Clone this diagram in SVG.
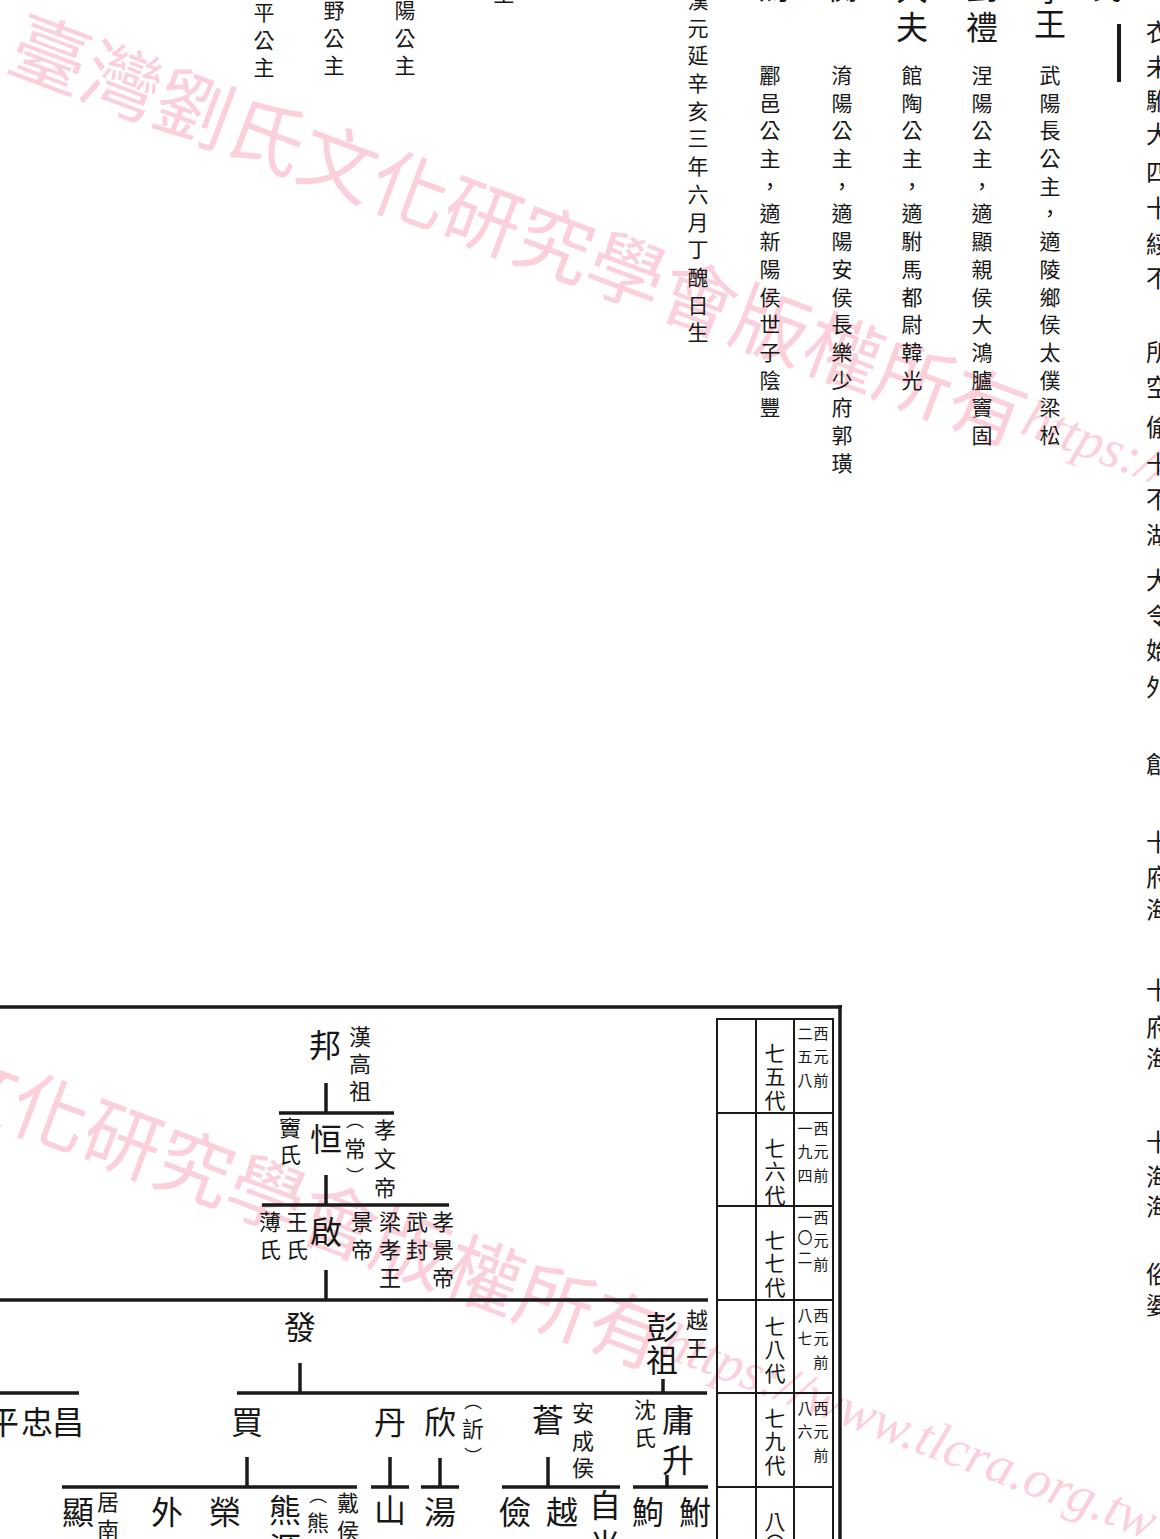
<svg xmlns="http://www.w3.org/2000/svg" width="1160" height="1539" viewBox="0 0 1160 1539">
<style>
text{font-family:"Noto Sans CJK TC","Noto Sans CJK SC",sans-serif;fill:#171717}
.v{writing-mode:vertical-rl}
.c{text-anchor:middle;dominant-baseline:central}
.t21{font-size:21px;letter-spacing:6.7px}
.L{font-size:32px}
.S{font-size:22px}
.P{font-size:18px}
.g{font-size:21px;letter-spacing:2.5px}
.d{font-size:15px;letter-spacing:8.5px}
.dn{font-size:15px;letter-spacing:5px}
.R{font-size:24px}
.wm text{fill:#fcd0da;font-size:77px;dominant-baseline:central}
.ln line{stroke:#1a1a1a;stroke-width:3.5}
.tb line{stroke:#1a1a1a;stroke-width:2}
</style>
<rect width="1160" height="1539" fill="#fff"/>
<g id="watermark" class="wm">
<text transform="translate(52,50) rotate(20.6)" x="-38.5" y="0">臺灣劉氏文化研究學會版權所有<tspan font-family="Liberation Serif" font-style="italic" font-size="54">https://www.tlcra.org.tw</tspan></text>
<text transform="translate(-308,973) rotate(20.6)" x="-38.5" y="0">臺灣劉氏文化研究學會版權所有<tspan font-family="Liberation Serif" font-style="italic" font-size="54">https://www.tlcra.org.tw</tspan></text>
</g>
<g id="top-page">
<rect x="1117" y="24" width="4" height="58" fill="#1a1a1a"/>
<g id="top-partials" class="L">
<text class="c" x="1050" y="-13">孝</text>
<text class="c" x="982" y="-15">劉</text>
<text class="c" x="912" y="-14">大</text>
<text class="c" x="843" y="-15">衡</text>
<text class="c" x="774" y="-15">焉</text>
<text class="c" x="1106" y="-15">氏</text>
</g>
<g id="top-col-1"><text class="c L" x="1050" y="22">王</text><text class="v t21" x="1050" y="64.5">武陽長公主，適陵鄉侯太僕梁松</text></g>
<g id="top-col-2"><text class="c L" x="982" y="25">禮</text><text class="v t21" x="982" y="64.5">涅陽公主，適顯親侯大鴻臚竇固</text></g>
<g id="top-col-3"><text class="c L" x="912" y="25">夫</text><text class="v t21" x="912" y="64.5">館陶公主，適駙馬都尉韓光</text></g>
<g id="top-col-4"><text class="v t21" x="842" y="64.5">淯陽公主，適陽安侯長樂少府郭璜</text></g>
<g id="top-col-5"><text class="v t21" x="770" y="64.5">酈邑公主，適新陽侯世子陰豐</text></g>
<g id="top-col-6"><text class="v t21" x="698" y="-10.5">漢元延辛亥三年六月丁醜日生</text></g>
<g id="top-left">
<text class="v t21" x="264" y="1.5">平公主</text>
<text class="v t21" x="334" y="-0.5">野公主</text>
<text class="v t21" x="405" y="-0.5">陽公主</text>
<text class="c t21" x="507" y="-8">主</text>
</g>
<g id="right-edge" class="R">
<text class="c" x="1158" y="30">衣</text><text class="c" x="1158" y="65">未</text><text class="c" x="1158" y="99">駙</text><text class="c" x="1158" y="132">大</text><text class="c" x="1158" y="170">四</text><text class="c" x="1158" y="206">十</text><text class="c" x="1158" y="242">綏</text><text class="c" x="1158" y="276">不</text>
<text class="c" x="1158" y="350">所</text><text class="c" x="1158" y="385">空</text><text class="c" x="1158" y="425">偷</text><text class="c" x="1158" y="462">十</text><text class="c" x="1158" y="497">不</text><text class="c" x="1158" y="533">湖</text><text class="c" x="1158" y="578">大</text><text class="c" x="1158" y="614">令</text><text class="c" x="1158" y="648">始</text><text class="c" x="1158" y="685">外</text>
<text class="c" x="1158" y="762">創</text><text class="c" x="1158" y="840">十</text><text class="c" x="1158" y="875">府</text><text class="c" x="1158" y="908">海</text><text class="c" x="1158" y="988">十</text><text class="c" x="1158" y="1025">府</text><text class="c" x="1158" y="1057">海</text>
<text class="c" x="1158" y="1140">十</text><text class="c" x="1158" y="1175">海</text><text class="c" x="1158" y="1205">海</text><text class="c" x="1158" y="1272">俗</text><text class="c" x="1158" y="1303">婆</text>
</g>
</g>
<g id="frame" class="ln">
<line x1="0" y1="1007" x2="842" y2="1007"/>
<line x1="840" y1="1005" x2="840" y2="1539"/>
</g>
<g id="table" class="tb">
<line x1="717" y1="1019" x2="717" y2="1539"/>
<line x1="756" y1="1019" x2="756" y2="1539"/>
<line x1="794" y1="1019" x2="794" y2="1539"/>
<line x1="833" y1="1019" x2="833" y2="1539"/>
<line x1="716" y1="1019" x2="834" y2="1019"/>
<line x1="716" y1="1113" x2="834" y2="1113"/>
<line x1="716" y1="1206" x2="834" y2="1206"/>
<line x1="716" y1="1300" x2="834" y2="1300"/>
<line x1="716" y1="1393" x2="834" y2="1393"/>
<line x1="716" y1="1487" x2="834" y2="1487"/>
</g>
<g id="table-text">
<text class="v g" x="775" y="1042.5">七五代</text>
<text class="v g" x="775" y="1137.5">七六代</text>
<text class="v g" x="775" y="1229.5">七七代</text>
<text class="v g" x="775" y="1315.5">七八代</text>
<text class="v g" x="775" y="1407.5">七九代</text>
<text class="v g" x="775" y="1510.5">八〇</text>
<text class="v d" x="821" y="1025.5">西元前</text>
<text class="v d" x="821" y="1120.5">西元前</text>
<text class="v d" x="821" y="1209.5">西元前</text>
<text class="v d" x="821" y="1307.5">西元前</text>
<text class="v d" x="821" y="1400.5">西元前</text>
<text class="v d" x="805" y="1025.5">二五八</text>
<text class="v d" x="805" y="1120.5">一九四</text>
<text class="v dn" x="805" y="1209.5">一〇二</text>
<text class="v d" x="805" y="1307.5">八七</text>
<text class="v d" x="805" y="1400.5">八六</text>
</g>
<g id="connectors" class="ln">
<line x1="326" y1="1083" x2="326" y2="1113"/>
<line x1="279" y1="1113" x2="394" y2="1113"/>
<line x1="326" y1="1175" x2="326" y2="1205"/>
<line x1="262" y1="1205" x2="449" y2="1205"/>
<line x1="326" y1="1270" x2="326" y2="1300"/>
<line x1="0" y1="1300" x2="708" y2="1300"/>
<line x1="300" y1="1363" x2="300" y2="1393"/>
<line x1="237" y1="1393" x2="707" y2="1393"/>
<line x1="0" y1="1393" x2="79" y2="1393"/>
<line x1="663" y1="1379" x2="663" y2="1393"/>
<line x1="247" y1="1457" x2="247" y2="1487"/>
<line x1="62" y1="1487" x2="357" y2="1487"/>
<line x1="390" y1="1457" x2="390" y2="1487"/>
<line x1="371" y1="1487" x2="409" y2="1487"/>
<line x1="440" y1="1458" x2="440" y2="1487"/>
<line x1="421" y1="1487" x2="459" y2="1487"/>
<line x1="548" y1="1457" x2="548" y2="1487"/>
<line x1="502" y1="1487" x2="620" y2="1487"/>
<line x1="667" y1="1475" x2="667" y2="1487"/>
<line x1="633" y1="1487" x2="708" y2="1487"/>
</g>
<g id="n-bang"><text class="c L" x="325" y="1043">邦</text><text class="v S" x="360" y="1026" letter-spacing="5">漢高祖</text></g>
<g id="n-heng"><text class="c L" x="326" y="1137">恒</text><text class="v S" x="290" y="1117" letter-spacing="5">竇氏</text><text class="c P" x="355" y="1119">︵</text><text class="c S" x="355" y="1147">常</text><text class="c P" x="355" y="1175">︶</text><text class="v S" x="385" y="1119" letter-spacing="7">孝文帝</text></g>
<g id="n-qi"><text class="c L" x="326" y="1230">啟</text><text class="v S" x="270" y="1211" letter-spacing="6">薄氏</text><text class="v S" x="297" y="1211" letter-spacing="6">王氏</text><text class="v S" x="362" y="1211" letter-spacing="6">景帝</text><text class="v S" x="390" y="1211" letter-spacing="6">梁孝王</text><text class="v S" x="417" y="1211" letter-spacing="6">武封</text><text class="v S" x="443" y="1211" letter-spacing="6">孝景帝</text></g>
<g id="n-fa"><text class="c L" x="300" y="1325">發</text></g>
<g id="n-pengzu"><text class="v L" x="662" y="1311" letter-spacing="1">彭祖</text><text class="v S" x="697" y="1309" letter-spacing="6">越王</text></g>
<g id="n-ping"><text class="c L" x="3" y="1420">平</text></g>
<g id="n-zhong"><text class="c L" x="37" y="1420">忠</text></g>
<g id="n-chang"><text class="c L" x="68" y="1420">昌</text></g>
<g id="n-mai"><text class="c L" x="247" y="1420">買</text></g>
<g id="n-dan"><text class="c L" x="390" y="1420">丹</text></g>
<g id="n-xin"><text class="c L" x="440" y="1420">欣</text><text class="c P" x="473" y="1400">︵</text><text class="c S" x="473" y="1427">訢</text><text class="c P" x="473" y="1455">︶</text></g>
<g id="n-cang"><text class="c L" x="548" y="1418">蒼</text><text class="v S" x="583" y="1402" letter-spacing="5.5">安成侯</text></g>
<g id="n-yongsheng"><text class="v S" x="645" y="1399" letter-spacing="6">沈氏</text><text class="v L" x="678" y="1404" letter-spacing="8">庸升</text></g>
<g id="n-xian"><text class="c L" x="78" y="1510">顯</text><text class="v S" x="108" y="1491" letter-spacing="6">居南</text></g>
<g id="n-wai"><text class="c L" x="167" y="1510">外</text></g>
<g id="n-rong"><text class="c L" x="225" y="1510">榮</text></g>
<g id="n-xiong"><text class="v L" x="285" y="1494" letter-spacing="6">熊源</text><text class="c P" x="318" y="1494">︵</text><text class="c S" x="318" y="1521">熊</text><text class="c P" x="318" y="1549">︶</text><text class="v S" x="348" y="1492" letter-spacing="6">戴侯</text></g>
<g id="n-shan"><text class="c L" x="390" y="1508">山</text></g>
<g id="n-tang"><text class="c L" x="440" y="1510">湯</text></g>
<g id="n-jian"><text class="c L" x="515" y="1510">儉</text></g>
<g id="n-yue"><text class="c L" x="562" y="1510">越</text></g>
<g id="n-ziguang"><text class="v L" x="605" y="1489" letter-spacing="8">自光</text></g>
<g id="n-ju"><text class="c L" x="648" y="1510">鮈</text></g>
<g id="n-fu"><text class="c L" x="695" y="1510">鮒</text></g>
</svg>
